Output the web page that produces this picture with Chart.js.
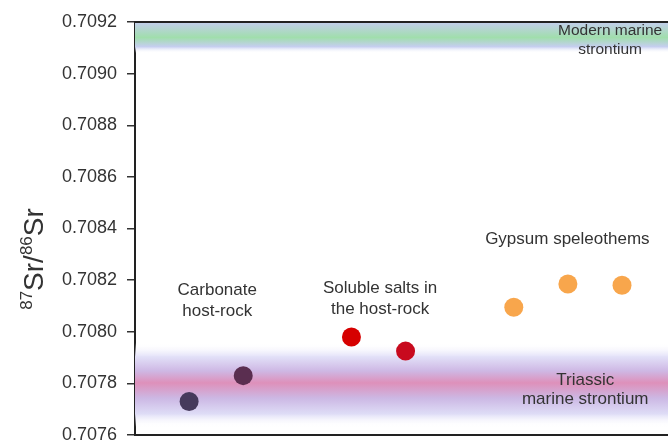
<!DOCTYPE html>
<html>
<head>
<meta charset="utf-8">
<script src="https://cdn.jsdelivr.net/npm/chart.js@4"></script>
<style>
  html, body { margin: 0; padding: 0; background: #fff; }
  #wrap { width: 668px; height: 442px; }
</style>
</head>
<body>
<div id="wrap"><canvas id="srChart" width="668" height="442"></canvas></div>
<script>
// sample groups: x position along the plot, 87Sr/86Sr ratio
const carbonateX = [1, 2];
const carbonateSr = [0.70773, 0.70783];
const saltsX = [4, 5];
const saltsSr = [0.70798, 0.707925];
const gypsumX = [7, 8, 9];
const gypsumSr = [0.708095, 0.708185, 0.70818];

// reference bands: [upper edge, centre, lower edge]
const modernBand = [0.70920, 0.709140, 0.709080];
const triassicBand = [0.707957, 0.707802, 0.707631];

const yTicks = [0.7076, 0.7078, 0.7080, 0.7082, 0.7084, 0.7086, 0.7088, 0.7090, 0.7092];

// text labels placed in data coordinates (first line)
const labels = [
  { x: 1.52, y: 0.708162, lines: ['Carbonate', 'host-rock'] },
  { x: 4.53, y: 0.708170, lines: ['Soluble salts in', 'the host-rock'] },
  { x: 7.99, y: 0.708359, lines: ['Gypsum speleothems'] },
  { x: 8.78, y: 0.709165, lines: ['Modern marine', 'strontium'] },
  { x: 8.32, y: 0.707813, lines: ['Triassic', 'marine strontium'] }
];

const FONT = '"Liberation Sans", Arial, sans-serif';

function toPoints(xs, ys) {
  return xs.map((x, i) => ({ x: x, y: ys[i] }));
}

const bandsPlugin = {
  id: 'bands',
  beforeDatasetsDraw(chart) {
    const { ctx, chartArea: a, scales: { y } } = chart;
    ctx.save();
    ctx.beginPath();
    ctx.rect(a.left, a.top, a.right - a.left, a.bottom - a.top);
    ctx.clip();

    // modern marine band
    let t = y.getPixelForValue(modernBand[0]);
    let b = y.getPixelForValue(modernBand[2]);
    let c = y.getPixelForValue(modernBand[1]);
    let g = ctx.createLinearGradient(0, t, 0, b);
    let f = (c - t) / (b - t);
    g.addColorStop(0, 'rgba(196,206,238,1)');
    g.addColorStop(f, 'rgba(160,222,172,1)');
    g.addColorStop(Math.min(1, f + 0.3), 'rgba(198,206,240,1)');
    g.addColorStop(1, 'rgba(255,255,255,0)');
    ctx.fillStyle = g;
    ctx.fillRect(a.left, t, a.right - a.left, b - t);

    // triassic band
    t = y.getPixelForValue(triassicBand[0]);
    b = y.getPixelForValue(triassicBand[2]);
    c = y.getPixelForValue(triassicBand[1]);
    f = (c - t) / (b - t);
    g = ctx.createLinearGradient(0, t, 0, b);
    g.addColorStop(0, 'rgba(255,255,255,0)');
    g.addColorStop(f * 0.35, 'rgba(226,224,248,1)');
    g.addColorStop(f * 0.7, 'rgba(206,184,228,1)');
    g.addColorStop(f, 'rgba(222,144,186,1)');
    g.addColorStop(f + (1 - f) * 0.35, 'rgba(204,184,228,1)');
    g.addColorStop(f + (1 - f) * 0.7, 'rgba(222,220,246,1)');
    g.addColorStop(1, 'rgba(255,255,255,0)');
    ctx.fillStyle = g;
    ctx.fillRect(a.left, t, a.right - a.left, b - t);
    ctx.restore();
  },
  afterDraw(chart) {
    const { ctx, chartArea: a, scales: { x, y } } = chart;
    ctx.save();
    // top frame line
    ctx.strokeStyle = '#222';
    ctx.lineWidth = 2;
    ctx.beginPath();
    ctx.moveTo(a.left - 1, a.top);
    ctx.lineTo(a.right, a.top);
    ctx.stroke();

    // annotations
    ctx.fillStyle = '#333';
    ctx.textAlign = 'center';
    ctx.textBaseline = 'middle';
    labels.forEach((l, k) => {
      const modern = k === 3;
      ctx.font = (modern ? '15.5px ' : '17px ') + FONT;
      const gap = k < 3 ? 21 : 19;
      const px = x.getPixelForValue(l.x);
      const py = y.getPixelForValue(l.y);
      l.lines.forEach((s, i) => ctx.fillText(s, px, py + i * gap));
    });

    // axis title with superscripts
    ctx.translate(43, 259);
    ctx.rotate(-Math.PI / 2);
    ctx.textAlign = 'left';
    ctx.textBaseline = 'alphabetic';
    const parts = [['87', true], ['Sr/', false], ['86', true], ['Sr', false]];
    const big = '28px ' + FONT, small = '17px ' + FONT;
    let total = 0;
    parts.forEach(p => { ctx.font = p[1] ? small : big; total += ctx.measureText(p[0]).width; });
    let cx = -total / 2;
    parts.forEach(p => {
      ctx.font = p[1] ? small : big;
      ctx.fillText(p[0], cx, p[1] ? -11 : 0);
      cx += ctx.measureText(p[0]).width;
    });
    ctx.restore();
  }
};

new Chart(document.getElementById('srChart').getContext('2d'), {
  type: 'scatter',
  data: {
    datasets: [
      {
        label: 'Carbonate host-rock',
        data: toPoints(carbonateX, carbonateSr),
        backgroundColor: ['#463a5c', '#5a2e50'],
        pointRadius: 9.5,
        borderWidth: 0
      },
      {
        label: 'Soluble salts in the host-rock',
        data: toPoints(saltsX, saltsSr),
        backgroundColor: ['#d60000', '#c80a1e'],
        pointRadius: 9.5,
        borderWidth: 0
      },
      {
        label: 'Gypsum speleothems',
        data: toPoints(gypsumX, gypsumSr),
        backgroundColor: '#f8a64c',
        pointRadius: 9.5,
        borderWidth: 0
      }
    ]
  },
  options: {
    responsive: false,
    animation: false,
    layout: { autoPadding: false, padding: { top: 22, right: 0, bottom: 0, left: 0 } },
    plugins: {
      legend: { display: false },
      tooltip: { enabled: false }
    },
    scales: {
      x: {
        type: 'linear',
        min: 0,
        max: 9.85,
        ticks: { display: false },
        grid: { display: true, drawOnChartArea: false, drawTicks: false },
        border: { color: '#222', width: 2 },
        afterFit(scale) {
          scale.height = 7;
          scale.paddingLeft = 0;
          scale.paddingRight = 0;
        }
      },
      y: {
        min: yTicks[0],
        max: yTicks[yTicks.length - 1],
        afterBuildTicks(scale) {
          scale.ticks = yTicks.map(v => ({ value: v }));
        },
        ticks: {
          color: '#333',
          padding: 10,
          font: { family: FONT, size: 18 },
          callback: v => Number(v).toFixed(4)
        },
        grid: { drawOnChartArea: false, tickLength: 8, color: '#333', lineWidth: 1.5 },
        border: { color: '#222', width: 2 },
        afterFit(scale) {
          scale.width = 135;
          scale.paddingTop = 0;
          scale.paddingBottom = 0;
        }
      }
    }
  },
  plugins: [bandsPlugin]
});
</script>
</body>
</html>
